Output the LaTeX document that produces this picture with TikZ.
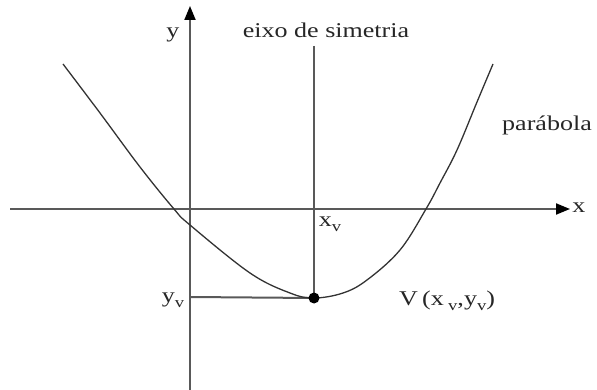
\documentclass[tikz,border=0pt]{standalone}
\usepackage{fontspec}
\setmainfont{Liberation Serif}
\usetikzlibrary{arrows.meta}
\newcommand\mysubv{\raisebox{-5pt}{\fontsize{15}{16}\selectfont v}}
\newcommand\wide[1]{\scalebox{1.24}[1]{#1}}
\begin{document}
\begin{tikzpicture}[x=1pt,y=-1pt,
  axis/.style={draw=black!65,line width=2pt,-{Triangle[length=14pt,width=11pt,black]}},
  guide/.style={draw=black!65,line width=2pt},
  curve/.style={draw=black!80,line width=1.3pt},
  lbl/.style={inner sep=0pt,font=\fontsize{21}{24}\selectfont,text=black!85}]
\useasboundingbox (0,0) rectangle (597,390);
% coordinates
\coordinate (xs) at (10,209);
\coordinate (xe) at (570,209);
\coordinate (ys) at (190,390);
\coordinate (ye) at (190,6);
\coordinate (st) at (314,46);
\coordinate (V) at (314,298);
\coordinate (yv) at (190,297);
% axes
\draw[axis] (xs) -- (xe);
\draw[axis] (ys) -- (ye);
\draw[guide] (st) -- (V);
\draw[guide] (yv) -- (V);
% parabola
\draw[curve] plot[smooth,tension=0.6] coordinates {(63,64) (100,113) (140,167) (174,209) (190,225) (250,273) (290,293) (314,298) (343,293) (367,280) (400,250) (426,209) (440,183) (457,150) (477,102) (493,64)};
\fill[black] (V) circle (5.5);
% labels
\node[lbl] (ly) at (173,35) {\wide{y}};
\node[lbl] (lx) at (579,208) {\wide{x}};
\node[lbl] (lsym) at (326,30) {\wide{eixo de simetria}};
\node[lbl] (lpar) at (547,125) {\wide{parábola}};
\node[lbl] (lxv) at (330,224) {\wide{x\mysubv}};
\node[lbl] (lyv) at (173,300) {\wide{y\mysubv}};
\node[lbl] (lV) at (447,301) {\wide{V\,(x\,\mysubv,y\mysubv)}};
\end{tikzpicture}
\end{document}
